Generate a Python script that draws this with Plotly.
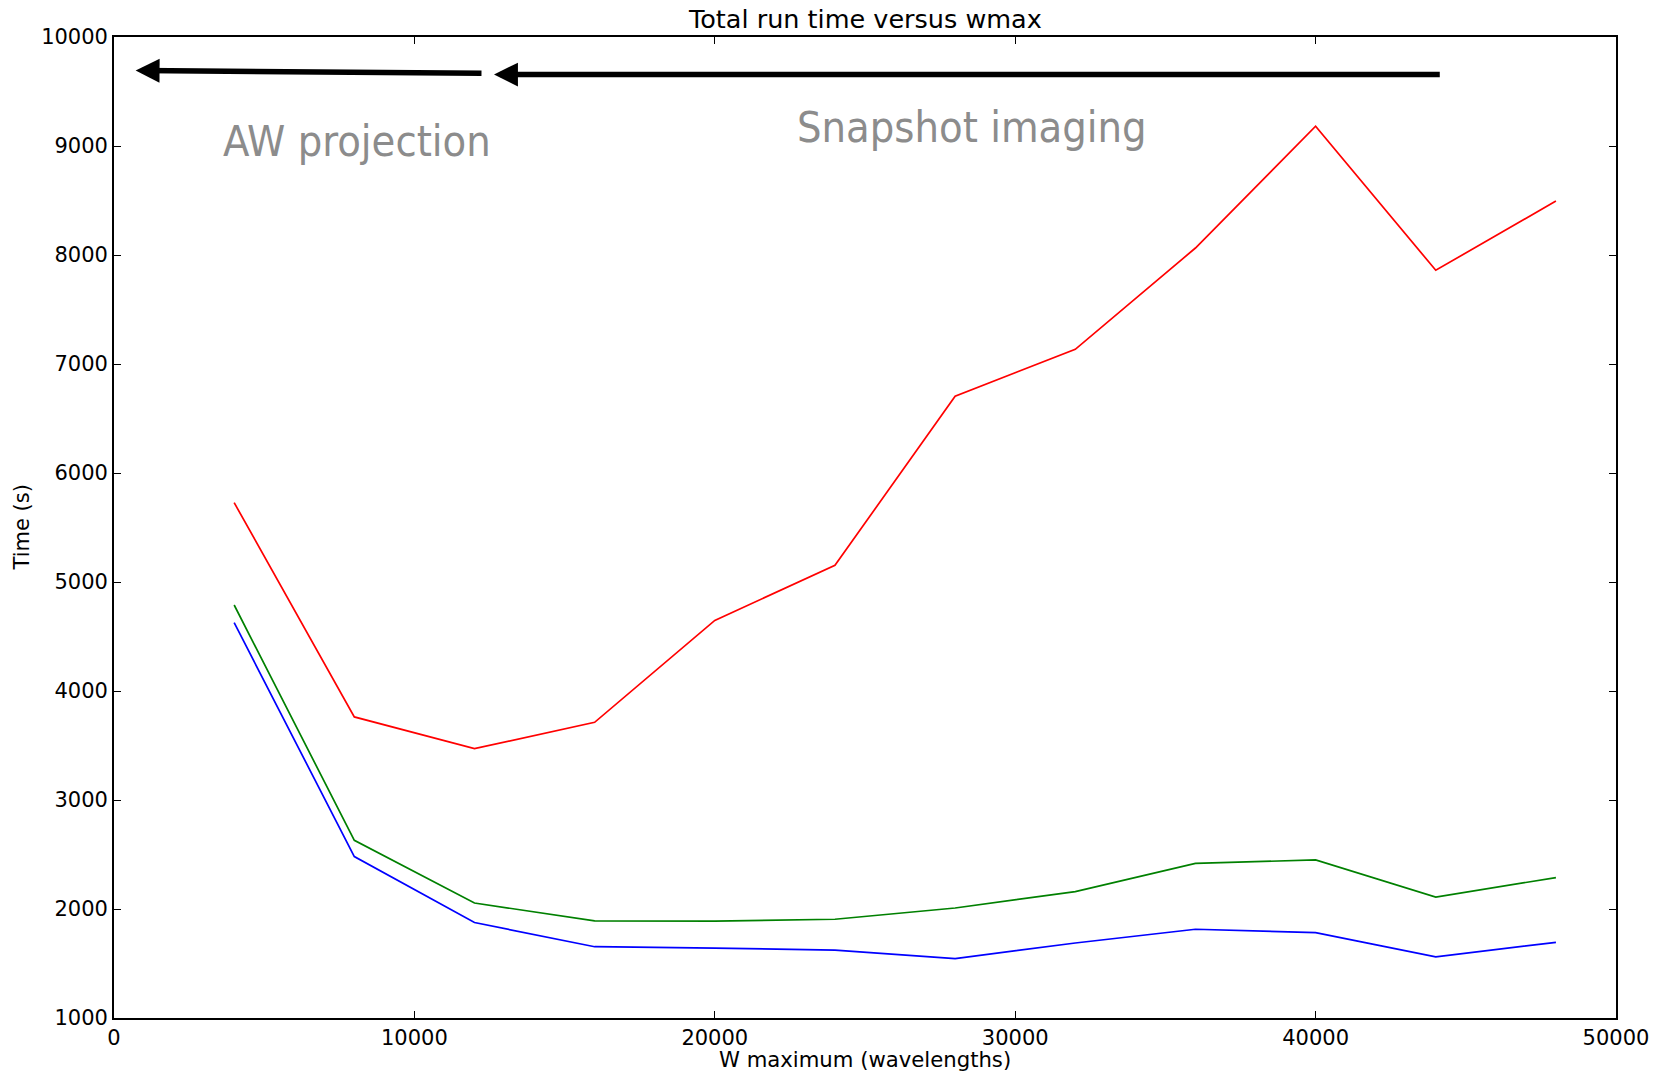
import plotly.graph_objects as go

# ---- data ----
w_max = [4000, 8000, 12000, 16000, 20000, 24000, 28000, 32000, 36000, 40000, 44000, 48000]
time_red = [5728, 3762, 3471, 3713, 4648, 5153, 6704, 7135, 8064, 9181, 7860, 8495]
time_green = [4789, 2630, 2055, 1891, 1888, 1906, 2009, 2160, 2419, 2450, 2110, 2288]
time_blue = [4627, 2481, 1876, 1654, 1641, 1623, 1545, 1688, 1814, 1783, 1561, 1694]

x_ticks = [0, 10000, 20000, 30000, 40000, 50000]
y_ticks = [1000, 2000, 3000, 4000, 5000, 6000, 7000, 8000, 9000, 10000]

# arrows: (tip_x, tip_y, tail_x, tail_y)
arrow_aw = (720, 9692, 12250, 9668)
arrow_snap = (12650, 9655, 44150, 9655)

# region labels: (text, x, y)
label_aw = ("AW projection", 8090, 9048)
label_snap = ("Snapshot imaging", 28560, 9171)

title_text = "Total run time versus wmax"
x_label = "W maximum (wavelengths)"
y_label = "Time (s)"

FONT = "DejaVu Sans, Bitstream Vera Sans, sans-serif"
BIG_FONT = "DejaVu Sans Condensed, Liberation Sans, Arial, sans-serif"

fig = go.Figure()
for ys, col in [(time_red, "#ff0000"), (time_green, "#008000"), (time_blue, "#0000ff")]:
    fig.add_trace(go.Scatter(x=w_max, y=ys, mode="lines",
                             line=dict(color=col, width=1.7), showlegend=False))

axis_common = dict(showline=True, linecolor="black", linewidth=1.7, mirror="ticks",
                   ticks="inside", ticklen=7, tickwidth=1, tickcolor="black",
                   showgrid=False, zeroline=False,
                   tickfont=dict(family=FONT, size=21, color="black"))

fig.update_xaxes(range=[0, 50000], tickvals=x_ticks,
                 ticktext=[str(v) for v in x_ticks], **axis_common)
fig.update_yaxes(range=[1000, 10000], tickvals=y_ticks,
                 ticktext=[str(v) for v in y_ticks], ticklabelstandoff=0, **axis_common)

annotations = []
for tip_x, tip_y, tail_x, tail_y in [arrow_aw, arrow_snap]:
    annotations.append(dict(x=tip_x, y=tip_y, ax=tail_x, ay=tail_y,
                            xref="x", yref="y", axref="x", ayref="y",
                            text="", showarrow=True, arrowhead=2, arrowsize=0.87,
                            arrowwidth=5.5, arrowcolor="black", borderpad=0))
for txt, lx, ly in [label_aw, label_snap]:
    annotations.append(dict(x=lx, y=ly, xref="x", yref="y", text=txt, showarrow=False,
                            xanchor="center", yanchor="middle",
                            font=dict(family=BIG_FONT, size=43, color="#8c8c8c")))

annotations.append(dict(x=0.5, y=1, xref="paper", yref="paper", text=title_text,
                        showarrow=False, xanchor="center", yanchor="middle", yshift=18,
                        font=dict(family=FONT, size=25.5, color="black")))
annotations.append(dict(x=0.5, y=0, xref="paper", yref="paper", text=x_label,
                        showarrow=False, xanchor="center", yanchor="middle", yshift=-41,
                        font=dict(family=FONT, size=21.2, color="black")))
annotations.append(dict(x=0, y=0.5, xref="paper", yref="paper", text=y_label,
                        showarrow=False, xanchor="center", yanchor="middle", xshift=-93,
                        textangle=-90,
                        font=dict(family=FONT, size=21, color="black")))

fig.update_layout(width=1669, height=1072, paper_bgcolor="white", plot_bgcolor="white",
                  margin=dict(l=114, r=53, t=37, b=54, pad=0),
                  annotations=annotations, showlegend=False)

fig.write_html("out.html", config={"displayModeBar": False},
               post_script="document.body.style.margin='0';document.body.style.overflow='hidden';")
